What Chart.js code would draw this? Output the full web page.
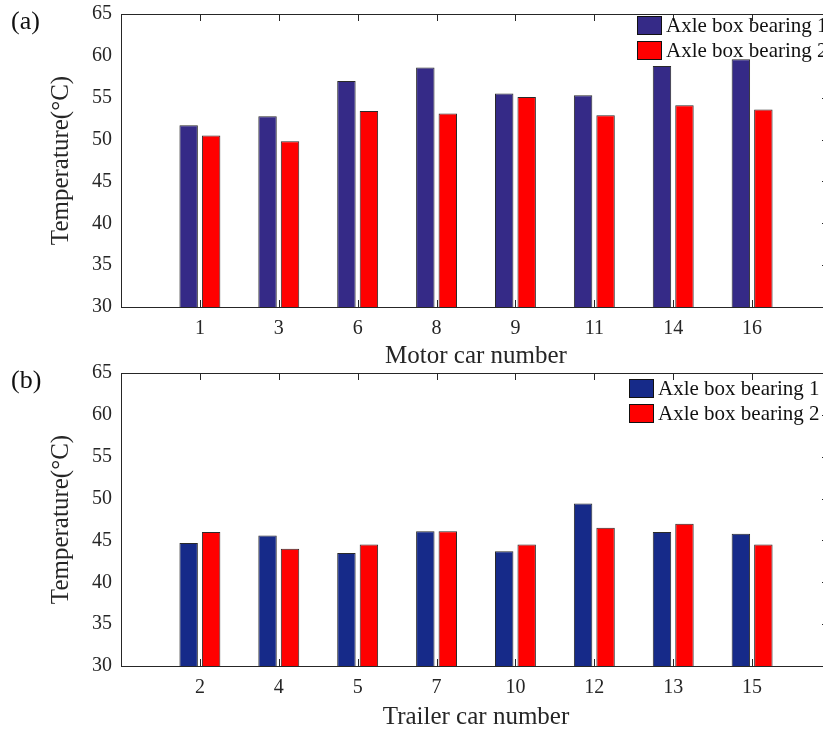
<!DOCTYPE html>
<html>
<head>
<meta charset="utf-8">
<script src="https://cdn.jsdelivr.net/npm/chart.js@4.4.1/dist/chart.umd.min.js"></script>
<style>
  html, body { margin: 0; padding: 0; background: #fff; overflow: hidden; }
  #wrap { position: relative; width: 823px; height: 731px; overflow: hidden; }
  canvas { position: absolute; left: 0; }
  #topChart { top: 0; }
  #bottomChart { top: 356px; }
</style>
</head>
<body>
<div id="wrap">
  <canvas id="topChart" width="832" height="380"></canvas>
  <canvas id="bottomChart" width="832" height="375"></canvas>
</div>
<script>
// values
const motorCars = ['1', '3', '6', '8', '9', '11', '14', '16'];
const motorBearing1 = [51.7, 52.8, 57.0, 58.6, 55.5, 55.3, 58.8, 59.6];
const motorBearing2 = [50.5, 49.8, 53.4, 53.1, 55.1, 52.9, 54.1, 53.6];

const trailerCars = ['2', '4', '5', '7', '10', '12', '13', '15'];
const trailerBearing1 = [44.7, 45.6, 43.5, 46.1, 43.7, 49.4, 46.0, 45.8];
const trailerBearing2 = [46.0, 44.0, 44.5, 46.1, 44.5, 46.5, 47.0, 44.5];

const yMin = 30, yMax = 65, yStep = 5;
const seriesNames = ['Axle box bearing 1', 'Axle box bearing 2'];

const FONT = "'Liberation Serif', 'Times New Roman', serif";
const INK = '#262626';
Chart.defaults.font.family = FONT;
Chart.defaults.color = INK;

// frame, inward ticks, legend and panel tag (MATLAB look)
const matlabPlugin = {
  id: 'matlab',
  afterDatasetsDraw(chart, args, o) {
    const { ctx, chartArea: a, scales: { x, y } } = chart;
    ctx.save();
    ctx.strokeStyle = INK;
    ctx.lineWidth = 1;
    ctx.strokeRect(Math.round(a.left) + 0.5, Math.round(a.top) + 0.5,
      Math.round(a.right - a.left), Math.round(a.bottom - a.top));

    ctx.beginPath();
    x.ticks.forEach(t => {
      if (t.value < 1 || t.value > o.count) return;
      const px = Math.round(x.getPixelForValue(t.value)) + 0.5;
      ctx.moveTo(px, a.top); ctx.lineTo(px, a.top + 7);
      ctx.moveTo(px, a.bottom); ctx.lineTo(px, a.bottom - 7);
    });
    y.ticks.forEach(t => {
      if (t.value <= yMin || t.value >= yMax) return;
      const py = Math.round(y.getPixelForValue(t.value)) + 0.5;
      ctx.moveTo(a.right, py); ctx.lineTo(a.right - 9, py);
    });
    ctx.stroke();

    // legend
    ctx.font = '21px ' + FONT;
    ctx.textBaseline = 'middle';
    ctx.textAlign = 'left';
    chart.data.datasets.forEach((ds, i) => {
      const bx = o.legendX, by = o.legendY + i * 25;
      ctx.fillStyle = ds.backgroundColor;
      ctx.fillRect(bx, by, 25, 19);
      ctx.strokeStyle = '#111';
      ctx.strokeRect(bx + 0.5, by + 0.5, 24, 18);
      ctx.fillStyle = '#111';
      ctx.fillText(ds.label, bx + 29, by + 10);
    });

    // panel tag
    ctx.font = '26px ' + FONT;
    ctx.fillStyle = '#111';
    ctx.fillText(o.tag, 11, o.tagY);
    ctx.restore();
  }
};

function makeChart(id, cars, s1, s2, blue, xTitle, cfg) {
  return new Chart(document.getElementById(id), {
    type: 'bar',
    data: {
      datasets: [
        { label: seriesNames[0], data: cars.map((c, i) => ({ x: i + 1, y: s1[i] })),
          backgroundColor: blue, borderColor: '#2a2a2a', borderWidth: 1 },
        { label: seriesNames[1], data: cars.map((c, i) => ({ x: i + 1, y: s2[i] })),
          backgroundColor: '#ff0000', borderColor: '#2a2a2a', borderWidth: 1 }
      ]
    },
    options: {
      responsive: false,
      animation: false,
      categoryPercentage: 0.57,
      barPercentage: 0.82,
      layout: { autoPadding: false, padding: { top: cfg.padTop, left: 0, right: 1, bottom: 0 } },
      plugins: {
        legend: { display: false },
        tooltip: { enabled: false },
        matlab: { count: cars.length, legendX: cfg.legendX, legendY: cfg.legendY, tag: cfg.tag, tagY: cfg.tagY }
      },
      scales: {
        x: {
          type: 'linear',
          offset: false,
          min: 0,
          max: cars.length + 1,
          grid: { display: false, drawTicks: false },
          border: { display: false },
          ticks: {
            stepSize: 1, autoSkip: false, maxRotation: 0, padding: 10,
            font: { size: 20 }, color: INK,
            callback: v => cars[v - 1] || ''
          },
          title: { display: true, text: xTitle, font: { size: 25, lineHeight: 1.1 }, color: INK,
                   padding: { top: 0, bottom: cfg.xTitlePad } },
          afterFit: s => { s.height = cfg.xHeight; s.paddingLeft = 0; s.paddingRight = 0; }
        },
        y: {
          min: yMin, max: yMax,
          grid: { display: false, drawTicks: false },
          border: { display: false },
          ticks: { stepSize: yStep, padding: 9, font: { size: 20 }, color: INK },
          title: { display: true, text: 'Temperature(°C)', font: { size: 25, lineHeight: 1.1 }, color: INK,
                   padding: { top: 48, bottom: 0 } },
          afterFit: s => { s.width = 121; s.paddingTop = 0; s.paddingBottom = 0; }
        }
      }
    },
    plugins: [matlabPlugin]
  });
}

makeChart('topChart', motorCars, motorBearing1, motorBearing2, '#352a87', 'Motor car number',
  { padTop: 14, xHeight: 73, xTitlePad: 10, legendX: 637, legendY: 16, tag: '(a)', tagY: 22 });

makeChart('bottomChart', trailerCars, trailerBearing1, trailerBearing2, '#162a89', 'Trailer car number',
  { padTop: 17, xHeight: 65, xTitlePad: 0, legendX: 629, legendY: 23, tag: '(b)', tagY: 25 });
</script>
</body>
</html>
